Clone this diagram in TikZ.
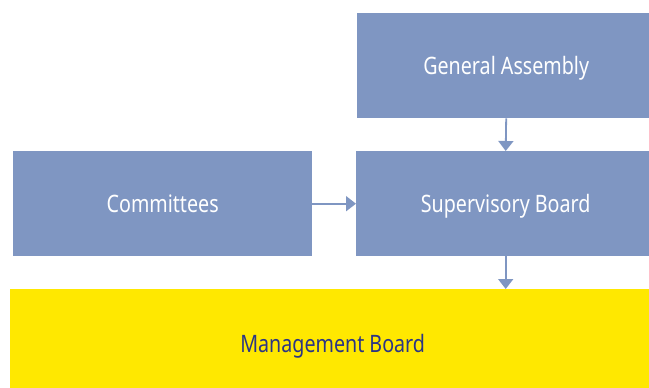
\documentclass[tikz,border=0pt]{standalone}
\usepackage{fontspec}
\setmainfont{Noto Sans}[FakeStretch=0.82]
\usetikzlibrary{arrows.meta}
\definecolor{boxblue}{HTML}{7F96C2}
\definecolor{mbyellow}{HTML}{FFE800}
\definecolor{mbtext}{HTML}{2B3585}
\tikzset{
  boxbase/.style={draw=none, anchor=north west, inner sep=0pt, text depth=0pt, font=\fontsize{24}{28}\selectfont},
  bluebox/.style={boxbase, fill=boxblue, text=white},
  yellowbox/.style={boxbase, fill=mbyellow, text=mbtext},
  conn/.style={draw=boxblue, line width=1.8pt, -{Triangle[width=15pt,length=10pt]}}
}
\begin{document}
\begin{tikzpicture}[x=1pt,y=-1pt]
\useasboundingbox (0,0) rectangle (649,388);
\clip (0,0) rectangle (649,388);
\node[bluebox, minimum width=298pt, minimum height=105pt] (ga) at (357,13) {General Assembly};
\node[bluebox, minimum width=299pt, minimum height=105pt] (com) at (13,151) {Committees};
\node[bluebox, minimum width=299pt, minimum height=105pt] (sb) at (356,151) {Supervisory Board};
\node[yellowbox, minimum width=645pt, minimum height=108pt] (mb) at (10,289) {Management Board};
\draw[conn] (ga.south) -- (sb.north);
\draw[conn] (com.east) -- (sb.west);
\draw[conn] (sb.south) -- (sb.south |- mb.north);
\end{tikzpicture}
\end{document}
